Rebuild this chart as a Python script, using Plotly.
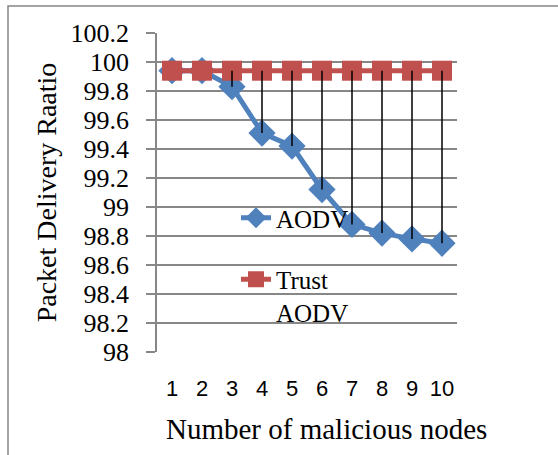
import plotly.graph_objects as go

nodes = [1, 2, 3, 4, 5, 6, 7, 8, 9, 10]
aodv = [99.94, 99.94, 99.83, 99.51, 99.42, 99.12, 98.88, 98.82, 98.78, 98.75]
trust_aodv = [99.94, 99.94, 99.94, 99.94, 99.94, 99.94, 99.94, 99.94, 99.94, 99.94]
y_ticks = [98, 98.2, 98.4, 98.6, 98.8, 99, 99.2, 99.4, 99.6, 99.8, 100, 100.2]
y_tick_labels = ["98", "98.2", "98.4", "98.6", "98.8", "99", "99.2", "99.4", "99.6", "99.8", "100", "100.2"]

BLUE = "#4F81BD"
RED = "#C0504D"
GRID = "#878787"
SERIF = "Liberation Serif, Times New Roman, serif"

# drop lines
dx, dy = [], []
for x, a, t in zip(nodes, aodv, trust_aodv):
    dx += [x, x, None]
    dy += [t, a, None]

fig = go.Figure()
fig.add_trace(go.Scatter(
    x=nodes, y=aodv, name="AODV", mode="lines+markers",
    line=dict(color=BLUE, width=5),
    marker=dict(symbol="diamond", size=21, color=BLUE),
    legendgroup="a",
))
fig.add_trace(go.Scatter(
    x=nodes, y=trust_aodv, name="Trust<br>AODV", mode="lines+markers",
    line=dict(color=RED, width=5),
    marker=dict(symbol="square", size=20, color=RED),
    legendgroup="b",
))
fig.add_trace(go.Scatter(
    x=dx, y=dy, mode="lines", line=dict(color="black", width=1.5),
    showlegend=False, hoverinfo="skip",
))

W, H = 558, 455
L, R, T, B = 157, 101, 33, 103
pw, ph = W - L - R, H - T - B

def px_x(v):
    return (v - L) / pw

def px_y(v):
    return (H - B - v) / ph

fig.add_shape(type="rect", xref="paper", yref="paper",
              x0=px_x(8), x1=px_x(620), y0=px_y(6), y1=px_y(520),
              line=dict(color="#868686", width=1.5), fillcolor="rgba(0,0,0,0)",
              layer="below")

fig.add_annotation(
    text="Number of malicious nodes", xref="paper", yref="paper",
    x=px_x(326), y=px_y(429), xanchor="center", yanchor="middle",
    showarrow=False, font=dict(family=SERIF, size=29, color="black"),
)

fig.update_layout(
    width=W, height=H,
    margin=dict(l=L, r=R, t=T, b=B, pad=0),
    paper_bgcolor="white", plot_bgcolor="white",
    font=dict(family=SERIF, size=25, color="black"),
    legend=dict(
        x=px_x(236), y=px_y(195), xanchor="left", yanchor="top",
        bgcolor="rgba(0,0,0,0)", font=dict(family=SERIF, size=25),
        tracegroupgap=26, valign="top",
    ),
    xaxis=dict(
        range=[0.5, 10.5], tickvals=nodes, ticktext=[str(n) for n in nodes],
        showgrid=False, zeroline=False, showline=False, ticks="",
        tickfont=dict(family="Liberation Sans, Arial, sans-serif", size=22, color="black"),
        ticklabelstandoff=21,
    ),
    yaxis=dict(
        range=[98, 100.2], tickvals=y_ticks, ticktext=y_tick_labels,
        showgrid=True, gridcolor=GRID, gridwidth=1.5,
        zeroline=False, showline=True, linecolor=GRID, linewidth=1.5,
        ticks="outside", ticklen=9, tickcolor=GRID, tickwidth=1.5,
        tickfont=dict(family=SERIF, size=26, color="black"),
        ticklabelstandoff=12,
        title=dict(text="Packet Delivery Raatio", font=dict(family=SERIF, size=28), standoff=6),
    ),
)

fig.write_html("out.html")
